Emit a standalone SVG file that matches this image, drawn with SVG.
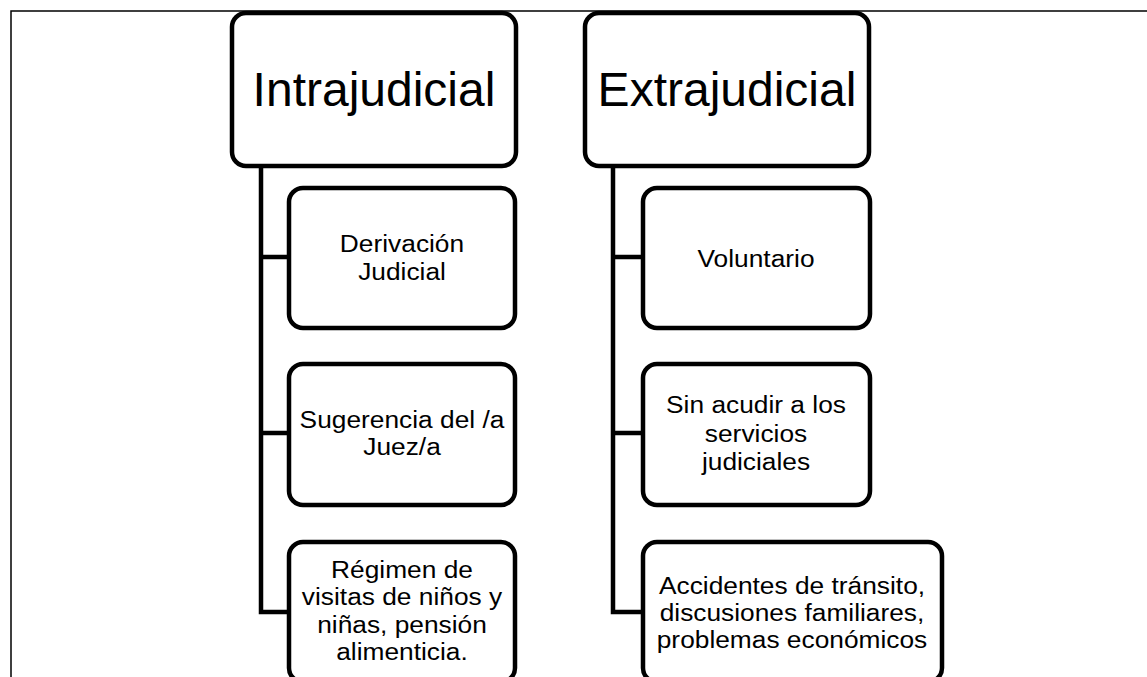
<svg xmlns="http://www.w3.org/2000/svg" width="1147" height="677" viewBox="0 0 1147 677">
<style>
.box{fill:#fff;stroke:#000;stroke-width:4.5}
.conn{fill:none;stroke:#000;stroke-width:4.5}
.h{font-family:"Liberation Sans",Arial,sans-serif;font-size:48px;fill:#000;text-anchor:middle}
.t{font-family:"Liberation Sans",Arial,sans-serif;font-size:23.5px;fill:#000;text-anchor:middle}
</style>
<rect width="1147" height="677" fill="#fff"/>
<path d="M11,677 V11 H1147" fill="none" stroke="#000" stroke-width="1.5"/>
<g id="connectors">
<path class="conn" d="M261,166 V612 H290 M261,257 H290 M261,433 H290"/>
<path class="conn" d="M613,166 V612 H644 M613,257 H644 M613,433 H644"/>
</g>
<g id="intrajudicial"><rect class="box" x="232" y="13" width="284" height="153" rx="14"/><text class="h" x="374" y="106">Intrajudicial</text></g>
<g id="extrajudicial"><rect class="box" x="585" y="13" width="284" height="153" rx="14"/><text class="h" x="727" y="106">Extrajudicial</text></g>
<g id="derivacion"><rect class="box" x="289" y="188" width="226" height="140" rx="14"/><g transform="translate(402,0) scale(1.12,1)"><text class="t" x="0" y="252">Derivación</text><text class="t" x="0" y="280">Judicial</text></g></g>
<g id="sugerencia"><rect class="box" x="289" y="364" width="226" height="141" rx="14"/><g transform="translate(402,0) scale(1.12,1)"><text class="t" x="0" y="428">Sugerencia del /a</text><text class="t" x="0" y="455">Juez/a</text></g></g>
<g id="regimen"><rect class="box" x="289" y="542" width="226" height="140" rx="14"/><g transform="translate(402,0) scale(1.12,1)"><text class="t" x="0" y="578">Régimen de</text><text class="t" x="0" y="605">visitas de niños y</text><text class="t" x="0" y="633">niñas, pensión</text><text class="t" x="0" y="660">alimenticia.</text></g></g>
<g id="voluntario"><rect class="box" x="643" y="188" width="227" height="140" rx="14"/><g transform="translate(756,0) scale(1.12,1)"><text class="t" x="0" y="267">Voluntario</text></g></g>
<g id="sinacudir"><rect class="box" x="643" y="364" width="227" height="141" rx="14"/><g transform="translate(756,0) scale(1.12,1)"><text class="t" x="0" y="413">Sin acudir a los</text><text class="t" x="0" y="442">servicios</text><text class="t" x="0" y="470">judiciales</text></g></g>
<g id="accidentes"><rect class="box" x="643" y="542" width="299" height="140" rx="14"/><g transform="translate(792,0) scale(1.12,1)"><text class="t" x="0" y="594">Accidentes de tránsito,</text><text class="t" x="0" y="621">discusiones familiares,</text><text class="t" x="0" y="648">problemas económicos</text></g></g>
</svg>
